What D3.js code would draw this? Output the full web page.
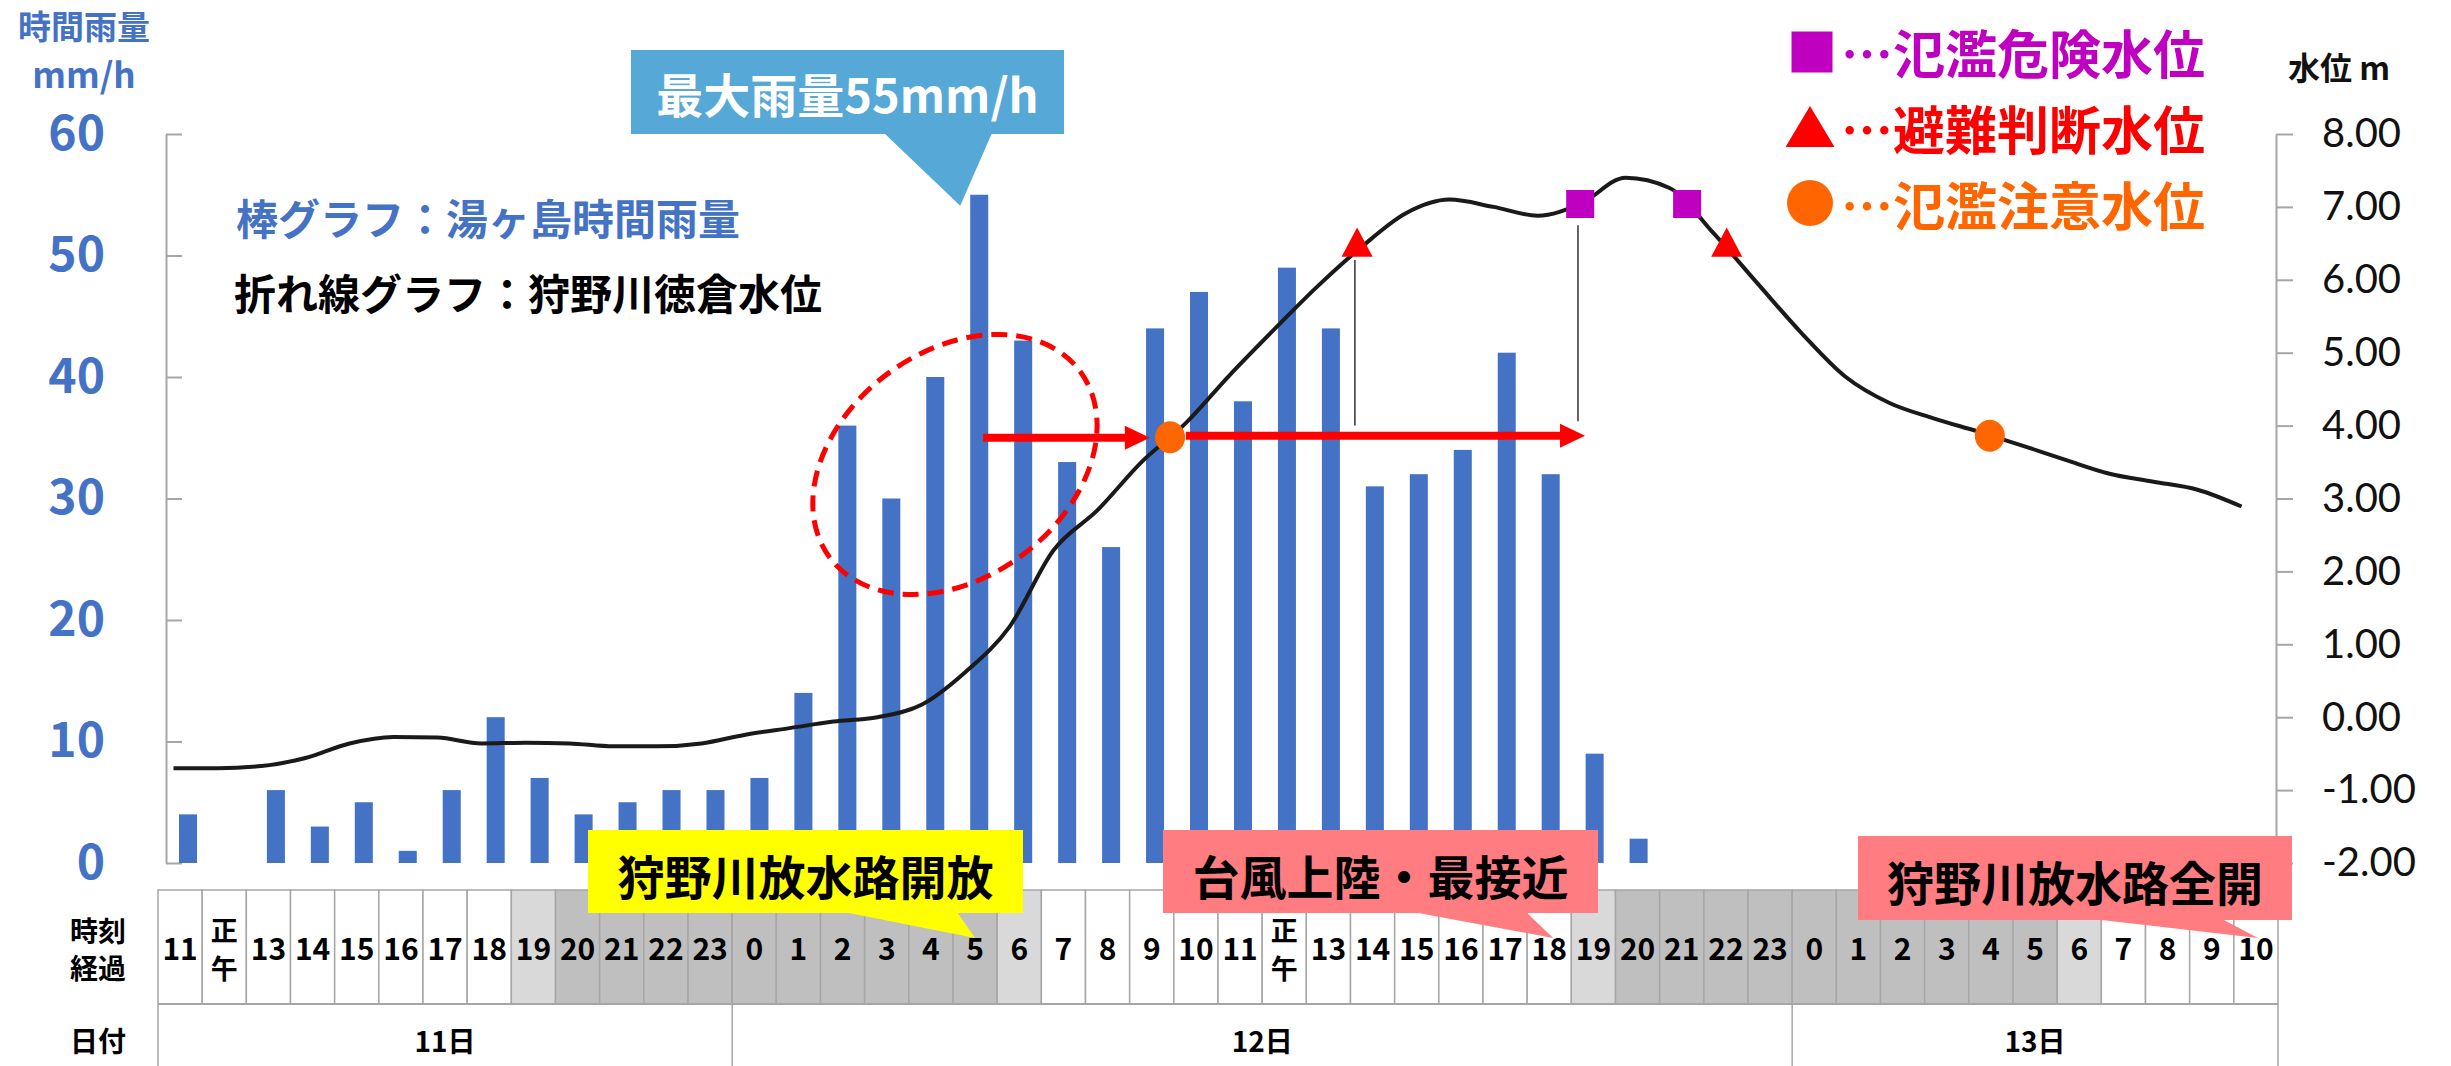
<!DOCTYPE html>
<html><head><meta charset="utf-8">
<script src="https://cdn.jsdelivr.net/npm/d3@7"></script>
<style>body{margin:0;background:#fff}svg{display:block}</style>
</head><body>
<svg id="c" width="2451" height="1066"></svg>
<script>
// ---------------- data ----------------
const hourLabels = ["11","正午","13","14","15","16","17","18","19","20","21","22","23",
  "0","1","2","3","4","5","6","7","8","9","10","11","正午","13","14","15","16","17","18","19","20","21","22","23",
  "0","1","2","3","4","5","6","7","8","9","10"];
const dateLabels = ["11日","12日","13日"];
const dateSpans = [13,24,11];
// 湯ヶ島 hourly rainfall (mm/h)
const rainfall = [4,0,6,3,5,1,6,12,7,4,5,6,6,
  7,14,36,30,40,55,43,33,26,44,47,38,49,44,31,32,34,42,32,9,2,0,0,0,
  0,0,0,0,0,0,0,0,0,0,0];
// 狩野川 徳倉 water level (m)
const waterLevel = [-0.70,-0.70,-0.67,-0.56,-0.36,-0.27,-0.28,-0.36,-0.35,-0.36,-0.40,-0.40,-0.36,
  -0.24,-0.15,-0.06,0.00,0.17,0.62,1.24,2.29,2.84,3.50,4.03,4.69,5.31,5.91,6.45,6.91,7.10,7.00,6.88,7.05,7.40,7.26,6.64,5.95,
  5.27,4.67,4.31,4.10,3.92,3.73,3.53,3.34,3.23,3.12,2.89];
const rainTicks = [0,10,20,30,40,50,60];
const levelTicks = [-2,-1,0,1,2,3,4,5,6,7,8];
// threshold markers: type, time (hours after 11日11時), level
const markerType  = ["circle","triangle","square","square","triangle","circle"];
const markerTime  = [22.65, 26.9, 31.97, 34.4, 35.3, 41.28];
const markerLevel = [3.84, 6.45, 7.04, 7.04, 6.45, 3.86];
const legendLabels = ["…氾濫危険水位","…避難判断水位","…氾濫注意水位"];
// arrows (time from, time to, level)
const arrowFrom = [18.4, 23.01];
const arrowTo   = [22.19, 32.08];
const arrowLevel= [3.834, 3.86];
// guide lines (time, level top, level bottom)
const guideTime = [26.85, 31.92];
const guideTop  = [6.27, 6.75];
const guideBot  = [4.0, 4.06];

// ---------------- setup ----------------
const svg = d3.select("#c");
const plotL=166, plotR=2276, plotT=134, plotB=863;
const JP = "'Noto Sans CJK JP','Noto Sans',sans-serif";
const BLUE="#4472C4";
const x = d3.scaleBand().domain(d3.range(48)).range([plotL,plotR]).paddingInner(0.59).paddingOuter(0.295);
const xL = d3.scaleLinear().domain([0,47]).range([173.5,2241.5]);
const xT = d3.scaleBand().domain(d3.range(48)).range([158,2278]);
const yR = d3.scaleLinear().domain([0,60]).range([plotB,plotT]);
const yW = d3.scaleLinear().domain([-2,8]).range([plotB,plotT]);

// ---------------- table ----------------
const rowTop=890, rowMid=1004, rowBot=1070;
function hourNum(l){return l==="正午"?12:+l;}
function shade(l){const h=hourNum(l); if(h===19||h===6) return "#D9D9D9"; if(h>=20||h<=5) return "#BFBFBF"; return "#FFFFFF";}
const tbl = svg.append("g");
tbl.selectAll("rect.cell").data(hourLabels).join("rect").attr("class","cell")
  .attr("x",(d,i)=>xT(i)).attr("y",rowTop).attr("width",xT.bandwidth()).attr("height",rowMid-rowTop)
  .attr("fill",d=>shade(d)).attr("stroke","#A6A6A6").attr("stroke-width",1.5);
const hourG = tbl.append("g").style("font-family",JP).style("font-weight","bold").attr("fill","#000");
hourLabels.forEach((d,i)=>{
  const cx = xT(i)+xT.bandwidth()/2;
  if(d==="正午"){
    hourG.append("text").attr("x",cx).attr("y",929).attr("text-anchor","middle").attr("dominant-baseline","central")
      .style("font-size","27px").text("正");
    hourG.append("text").attr("x",cx).attr("y",967).attr("text-anchor","middle").attr("dominant-baseline","central")
      .style("font-size","27px").text("午");
  } else {
    hourG.append("text").attr("x",cx).attr("y",947).attr("text-anchor","middle").attr("dominant-baseline","central")
      .style("font-size","30px").text(d);
  }
});
let cum=0; const bounds=[0];
dateSpans.forEach(s=>{cum+=s; bounds.push(cum);});
tbl.append("line").attr("x1",158).attr("x2",2278).attr("y1",rowMid).attr("y2",rowMid).attr("stroke","#A6A6A6").attr("stroke-width",2);
tbl.selectAll("line.db").data(bounds).join("line").attr("class","db")
  .attr("x1",d=>d===48?2278:xT(d)).attr("x2",d=>d===48?2278:xT(d)).attr("y1",rowMid).attr("y2",rowBot)
  .attr("stroke","#A6A6A6").attr("stroke-width",1.5);
tbl.selectAll("text.dl").data(dateLabels).join("text").attr("class","dl")
  .attr("x",(d,i)=>{const a=xT(bounds[i]); const b=bounds[i+1]===48?2278:xT(bounds[i+1]); return (a+b)/2;})
  .attr("y",1040).attr("text-anchor","middle").attr("dominant-baseline","central")
  .style("font-family",JP).style("font-weight","bold").style("font-size","28px").text(d=>d);
const rowLab = svg.append("g").style("font-family",JP).style("font-weight","bold").style("font-size","28px")
  .attr("text-anchor","middle");
rowLab.append("text").attr("x",98).attr("y",930).attr("dominant-baseline","central").text("時刻");
rowLab.append("text").attr("x",98).attr("y",967).attr("dominant-baseline","central").text("経過");
rowLab.append("text").attr("x",98).attr("y",1040).attr("dominant-baseline","central").text("日付");

// ---------------- axes ----------------
const gL = svg.append("g").attr("transform",`translate(${plotL},0)`)
  .call(d3.axisLeft(yR).tickValues(rainTicks).tickSize(-16).tickPadding(61).tickSizeOuter(0));
gL.select(".domain").attr("stroke","#A6A6A6").attr("stroke-width",2);
gL.selectAll(".tick line").attr("stroke","#A6A6A6").attr("stroke-width",2);
gL.selectAll(".tick text").attr("fill",BLUE).style("font-family",JP).style("font-weight","bold").style("font-size","48px");
const gR = svg.append("g").attr("transform",`translate(${plotR},0)`)
  .call(d3.axisRight(yW).tickValues(levelTicks).tickFormat(d=>d.toFixed(2)).tickSize(17).tickPadding(29).tickSizeOuter(0));
gR.select(".domain").attr("stroke","#A6A6A6").attr("stroke-width",2);
gR.selectAll(".tick line").attr("stroke","#A6A6A6").attr("stroke-width",2);
gR.selectAll(".tick text").attr("fill","#111").style("font-family","Lato,'Open Sans',sans-serif").style("font-size","40px");

// axis titles
svg.append("text").attr("x",84).attr("y",39).attr("text-anchor","middle")
  .attr("fill",BLUE).style("font-family",JP).style("font-weight","bold").style("font-size","33px").text("時間雨量");
svg.append("text").attr("x",84).attr("y",88).attr("text-anchor","middle")
  .attr("fill",BLUE).style("font-family",JP).style("font-weight","bold").style("font-size","35px").text("mm/h");
svg.append("text").attr("x",2288).attr("y",66).attr("dominant-baseline","central")
  .attr("fill","#111").style("font-family",JP).style("font-weight","bold").style("font-size","32px").text("水位 m");

// ---------------- bars ----------------
svg.append("g").selectAll("rect").data(rainfall).join("rect")
  .attr("x",(d,i)=>x(i)).attr("width",x.bandwidth())
  .attr("y",d=>yR(d)).attr("height",d=>yR(0)-yR(d)).attr("fill",BLUE);

// ---------------- annotations (ellipse, arrows) ----------------
const ex = xL(17.76), ey = yR(32.8);
svg.append("ellipse").attr("cx",0).attr("cy",0).attr("rx",156).attr("ry",113)
  .attr("transform",`translate(${ex},${ey}) rotate(-36.7)`)
  .attr("fill","none").attr("stroke","#FF0000").attr("stroke-width",5).attr("stroke-dasharray","16,9");

// water level line
const line = d3.line().x((d,i)=>xL(i)).y(d=>yW(d)).curve(d3.curveMonotoneX);
svg.append("path").datum(waterLevel).attr("d",line).attr("fill","none")
  .attr("stroke","#1a1a1a").attr("stroke-width",4).attr("stroke-linejoin","round");

// guide lines
svg.append("g").selectAll("line").data(guideTime).join("line")
  .attr("x1",d=>xL(d)).attr("x2",d=>xL(d)).attr("y1",(d,i)=>yW(guideTop[i])).attr("y2",(d,i)=>yW(guideBot[i]))
  .attr("stroke","#333").attr("stroke-width",1.5);

// arrows
function arrowPath(x0,x1,y){
  const hs=4, hh=12, hl=25;
  return `M${x0},${y-hs}L${x1-hl},${y-hs}L${x1-hl},${y-hh}L${x1},${y}L${x1-hl},${y+hh}L${x1-hl},${y+hs}L${x0},${y+hs}Z`;
}
svg.append("g").selectAll("path").data(arrowFrom).join("path")
  .attr("d",(d,i)=>arrowPath(xL(d),xL(arrowTo[i]),yW(arrowLevel[i]))).attr("fill","#FF0000");

// markers
const mColor = {square:"#C000C0",triangle:"#FF0000",circle:"#FF6600"};
function symPath(t,s){
  if(t==="square") return `M${-s/2},${-s/2}h${s}v${s}h${-s}Z`;
  if(t==="triangle"){const h=s*0.94; return `M0,${-2*h/3}L${s/2},${h/3}L${-s/2},${h/3}Z`;}
  return null;
}
const mk = svg.append("g").selectAll("g").data(markerType).join("g")
  .attr("transform",(d,i)=>`translate(${xL(markerTime[i])},${yW(markerLevel[i])})`);
mk.each(function(d){
  const g=d3.select(this);
  if(d==="circle") g.append("ellipse").attr("rx",15).attr("ry",16).attr("fill",mColor[d]);
  else g.append("path").attr("d",symPath(d,d==="square"?28:31)).attr("fill",mColor[d]);
});

// legend
const legTypes=["square","triangle","circle"];
const legColors=["#C000C0","#FF0000","#FF6600"];
const legY=[51,127,203];
const lg = svg.append("g");
legTypes.forEach((t,i)=>{
  const g=lg.append("g").attr("transform",`translate(1810,${legY[i]})`);
  if(t==="circle") g.append("ellipse").attr("rx",23).attr("ry",23).attr("fill",legColors[i]);
  else if(t==="square") g.append("path").attr("d",symPath("square",41)).attr("transform","translate(2,1)").attr("fill",legColors[i]);
  else g.append("path").attr("d","M0,-21L24.5,20L-24.5,20Z").attr("fill",legColors[i]);
  lg.append("text").attr("x",1841).attr("y",legY[i]).attr("dominant-baseline","central")
    .attr("fill",legColors[i]).style("font-family",JP).style("font-weight","bold").style("font-size","52px")
    .text(legendLabels[i]);
});

// series captions
svg.append("text").attr("x",236).attr("y",216).attr("dominant-baseline","central").attr("fill",BLUE)
  .style("font-family",JP).style("font-weight","bold").style("font-size","42px").text("棒グラフ：湯ヶ島時間雨量");
svg.append("text").attr("x",234).attr("y",291).attr("dominant-baseline","central").attr("fill","#000")
  .style("font-family",JP).style("font-weight","bold").style("font-size","42px").text("折れ線グラフ：狩野川徳倉水位");

// callouts
function callout(box, tri, fill, text, color, ty){
  const g=svg.append("g");
  g.append("path").attr("d",`M${tri[0][0]},${tri[0][1]}L${tri[1][0]},${tri[1][1]}L${tri[2][0]},${tri[2][1]}Z`).attr("fill",fill);
  g.append("rect").attr("x",box[0]).attr("y",box[1]).attr("width",box[2]).attr("height",box[3]).attr("fill",fill);
  g.append("text").attr("x",box[0]+box[2]/2).attr("y",ty).attr("text-anchor","middle").attr("dominant-baseline","central")
    .attr("fill",color).style("font-family",JP).style("font-weight","bold").style("font-size","47px").text(text);
}
const peakI = rainfall.indexOf(d3.max(rainfall));
const tipX = x(peakI)-10, tipY = yR(rainfall[peakI])+11;
callout([631,50,433,84],[[884,133],[992,133],[tipX,tipY]],"#56A8D6","最大雨量55mm/h","#fff",92);
callout([588,830,435,83],[[844,912],[957,912],[xT(18)+xT.bandwidth()/2,938]],"#FFFF00","狩野川放水路開放","#000",874);
callout([1163,830,435,83],[[1413,912],[1526,912],[xT(31)+xT.bandwidth()/2+4,938]],"#FF7C80","台風上陸・最接近","#000",874);
callout([1858,836,434,84],[[2093,919],[2222,919],[xT(47)+xT.bandwidth()/2+2,938]],"#FF7C80","狩野川放水路全開","#000",880);
</script>
</body></html>
